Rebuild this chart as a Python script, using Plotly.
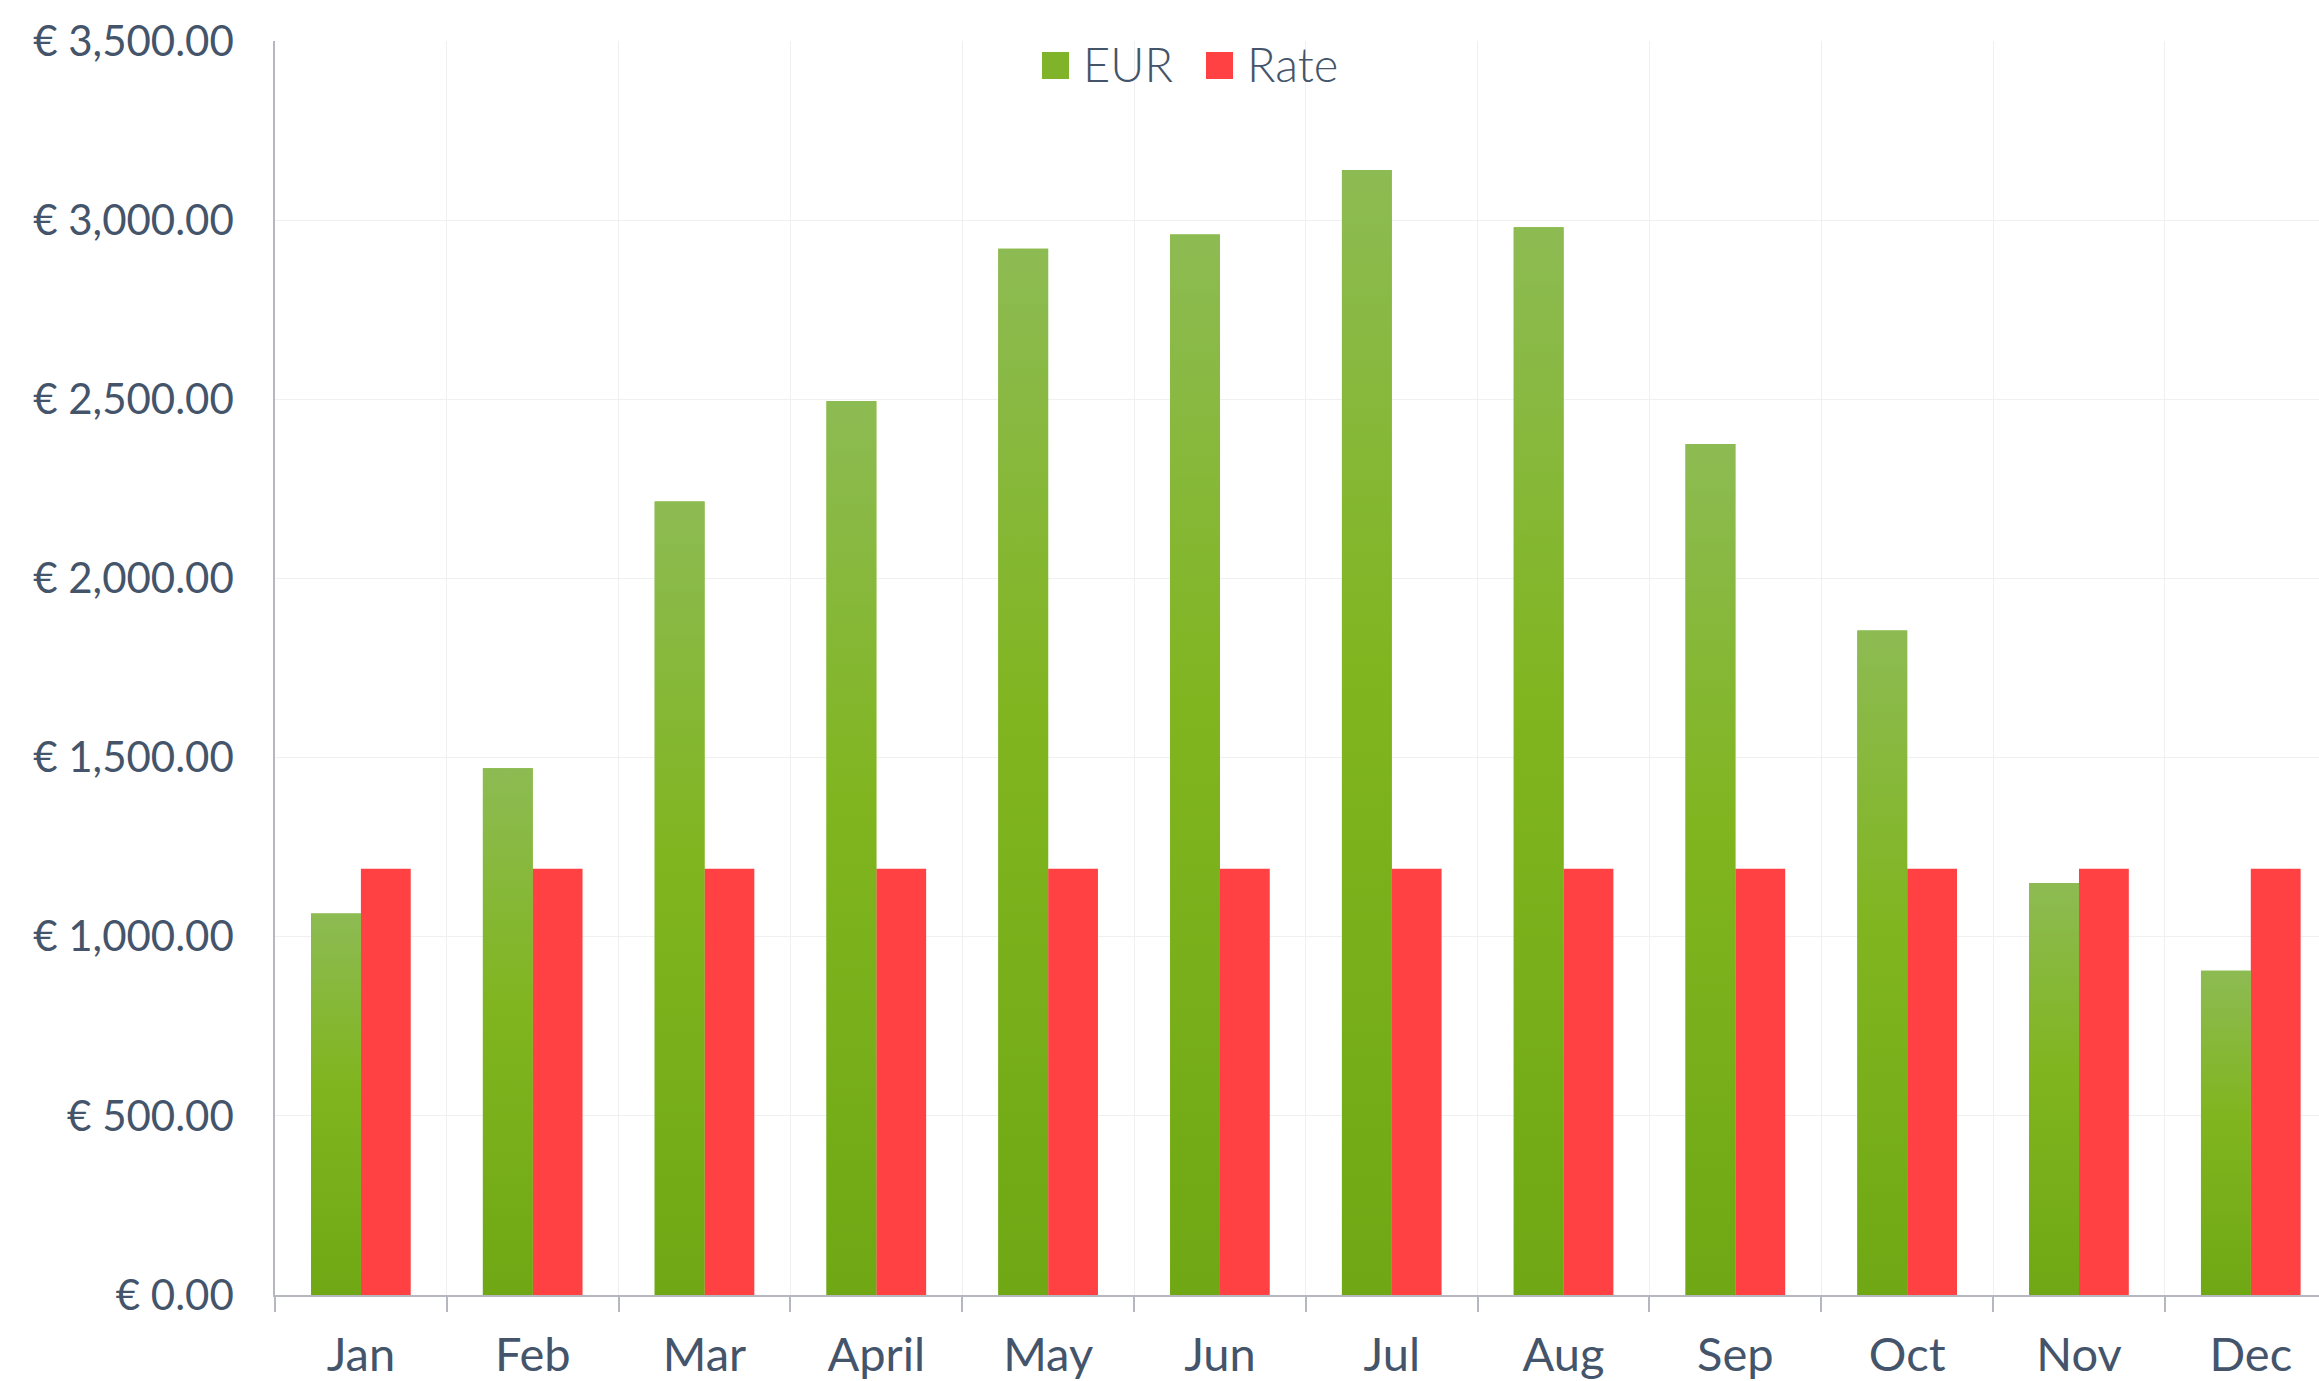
import plotly.graph_objects as go

# ---- data ----
months = ["Jan", "Feb", "Mar", "April", "May", "Jun", "Jul", "Aug", "Sep", "Oct", "Nov", "Dec"]
eur = [1065, 1470, 2215, 2495, 2920, 2960, 3140, 2980, 2375, 1855, 1150, 905]
rate = [1190, 1190, 1190, 1190, 1190, 1190, 1190, 1190, 1190, 1190, 1190, 1190]
series_names = ["EUR", "Rate"]

# ---- style ----
W, H = 2319, 1381
ML, MR, MT, MB = 275, 0, 41, 86
GREEN = "#7fb42a"
GREEN_SCALE = [[0, "#6fa814"], [0.55, "#80b51f"], [1, "#8dbb53"]]
RED = "#ff4143"
TXT = "#44546a"
GRID = "#f0f0f0"
AXIS = "#b5b9bf"
FONT = "Lato"
BARGAP = 0.42
XMAX = 11.397

fig = go.Figure()
fig.add_trace(go.Bar(name=series_names[0], x=months, y=eur, marker=dict(color=GREEN, line=dict(width=0)),
                     showlegend=False))
fig.add_trace(go.Bar(name=series_names[1], x=months, y=rate, marker=dict(color=RED, line=dict(width=0)),
                     showlegend=False))

# gradient overlay for the EUR bars (computed from the same data on a twin linear axis)
w = (1 - BARGAP) / 2
for i, v in enumerate(eur):
    fig.add_trace(go.Scatter(
        x=[i - w, i - w, i, i, i - w], y=[0, v, v, 0, 0],
        xaxis="x2", yaxis="y", mode="lines", line=dict(width=0),
        fill="toself", fillcolor=GREEN,
        fillgradient=dict(type="vertical", colorscale=GREEN_SCALE),
        hoverinfo="skip", showlegend=False))

fig.update_layout(
    width=W, height=H,
    margin=dict(l=ML, r=MR, t=MT, b=MB, pad=0),
    paper_bgcolor="white", plot_bgcolor="white",
    barmode="group", bargap=BARGAP, bargroupgap=0,
    font=dict(family=FONT, color=TXT),
    showlegend=False,
    xaxis=dict(
        type="category", range=[-0.5, XMAX], tickson="boundaries",
        showgrid=True, gridcolor=GRID, gridwidth=1,
        showline=True, linecolor=AXIS, linewidth=1.5,
        ticks="outside", ticklen=15, tickcolor=AXIS, tickwidth=1.5,
        tickfont=dict(size=47, family=FONT, color=TXT),
        ticklabelstandoff=18, automargin=False, zeroline=False, fixedrange=True,
    ),
    xaxis2=dict(
        overlaying="x", range=[-0.5, XMAX], visible=False, showgrid=False, zeroline=False,
    ),
    yaxis=dict(
        range=[0, 3500], dtick=500, tick0=0,
        tickprefix="€ ", tickformat=",.2f",
        showgrid=True, gridcolor=GRID, gridwidth=1,
        showline=True, linecolor=AXIS, linewidth=1.5,
        ticks="", zeroline=False,
        tickfont=dict(size=42, family=FONT, color=TXT),
        ticklabelstandoff=31, automargin=False,
    ),
)

# ---- legend (drawn manually to match the large square swatches) ----
pw = W - ML - MR
ph = H - MT - MB
def px(xp):
    return (xp - ML) / pw
def py(yp):
    return (H - MB - yp) / ph

legend_items = [(series_names[0], GREEN, 1042, 1081), (series_names[1], RED, 1206, 1245)]
for name, col, sx, tx in legend_items:
    fig.add_shape(type="rect", xref="paper", yref="paper",
                  x0=px(sx), x1=px(sx + 27), y0=py(79), y1=py(52),
                  fillcolor=col, line=dict(width=0), layer="above")
    fig.add_annotation(xref="paper", yref="paper", x=px(tx), y=py(64),
                       xanchor="left", yanchor="middle", showarrow=False,
                       text=name, font=dict(size=47, family="Lato Light, Lato", color=TXT, weight=300))

fig.write_html("out.html", config={"displayModeBar": False},
               post_script="document.body.style.margin='0';")
